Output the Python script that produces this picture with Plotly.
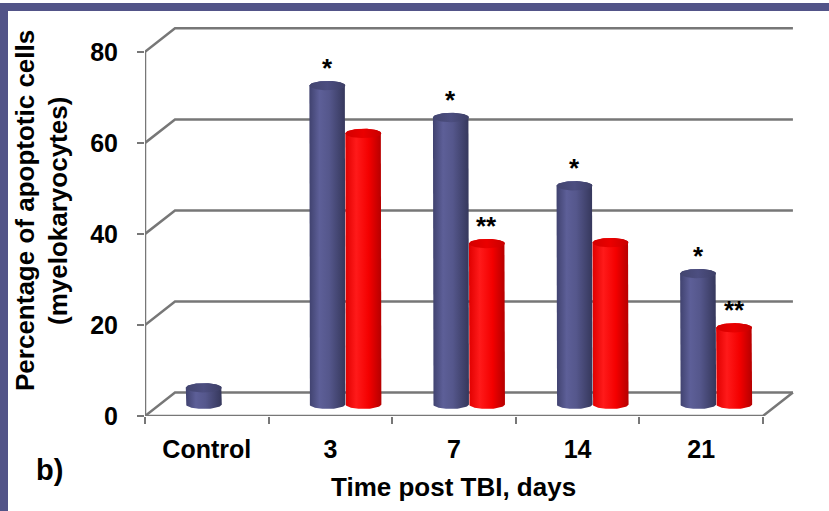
import numpy as np
import plotly.graph_objects as go

# ---------------- data ----------------
categories = ["Control", "3", "7", "14", "21"]
group_a = [3.6, 70.0, 63.0, 48.0, 28.7]      # blue bars
group_b = [None, 59.5, 35.3, 35.5, 16.8]     # red bars
sig_a = ["", "*", "*", "*", "*"]
sig_b = ["", "", "**", "", "**"]
y_ticks = [0, 20, 40, 60, 80]
x_title = "Time post TBI, days"
y_title_1 = "Percentage of apoptotic cells"
y_title_2 = "(myelokaryocytes)"
panel_label = "b)"

# ---------------- geometry ----------------
W, H = 829, 511
ML, MR, MT, MB = 145, 29, 20, 95
PW, PH = W - ML - MR, H - MT - MB
XR = [-0.5, 4.8]
YR = [0, 87]
PXX = PW / (XR[1] - XR[0])   # px per x unit
PXY = PH / (YR[1] - YR[0])   # px per y unit
DX = 30 / PXX                # depth offset (x)
DY = 23.5 / PXY              # depth offset (y)
BW = 36 / PXX                # bar width
EB = 4.7 / PXY               # ellipse half height
FONT = "Liberation Sans, Arial, sans-serif"
GRID = "#777777"

def px2paper_x(px):
    return (px - ML) / PW

def px2paper_y(py):
    return (H - MB - py) / PH

fig = go.Figure()

# back wall grid lines + floor
x_front0, x_front1 = XR[0], len(categories) - 0.5
for v in y_ticks:
    fig.add_trace(go.Scatter(
        x=[x_front0, x_front0 + DX, x_front1 + DX],
        y=[v, v + DY, v + DY],
        mode="lines", line=dict(color=GRID, width=2.5), hoverinfo="skip"))
fig.add_trace(go.Scatter(
    x=[x_front0, x_front1, x_front1 + DX],
    y=[0, 0, DY], mode="lines", line=dict(color=GRID, width=2.5), hoverinfo="skip"))
fig.add_trace(go.Scatter(
    x=[x_front0, x_front0], y=[0, y_ticks[-1]],
    mode="lines", line=dict(color=GRID, width=2.5), hoverinfo="skip"))

BLUE_BODY = [[0, "#40426f"], [0.28, "#5d5f98"], [0.55, "#55578c"], [1, "#35375b"]]
BLUE_TOP = [[0, "#43456f"], [0.5, "#4c4e80"], [1, "#3d3f66"]]
RED_BODY = [[0, "#e00000"], [0.3, "#ff1a1a"], [0.65, "#f40000"], [1, "#b50000"]]
RED_TOP = [[0, "#d40000"], [0.5, "#ea0000"], [1, "#c80000"]]

def cylinder(xc, v, body_cs, top_cs):
    a = BW / 2
    base = DY / 2
    top = v + DY / 2
    t1 = np.linspace(np.pi, 2 * np.pi, 40)
    t2 = np.linspace(0, np.pi, 40)
    bx = np.concatenate([[xc - a, xc - a], xc + a * np.cos(t1), [xc + a], xc + a * np.cos(t2)])
    by = np.concatenate([[top, base], base + EB * np.sin(t1), [top], top + EB * np.sin(t2)])
    fig.add_trace(go.Scatter(x=bx, y=by, mode="lines", fill="toself",
                             line=dict(width=0, color="rgba(0,0,0,0)"),
                             fillgradient=dict(type="horizontal", colorscale=body_cs),
                             hoverinfo="skip"))
    t = np.linspace(0, 2 * np.pi, 80)
    fig.add_trace(go.Scatter(x=xc + a * np.cos(t), y=top + EB * np.sin(t), mode="lines",
                             fill="toself", line=dict(width=0, color="rgba(0,0,0,0)"),
                             fillgradient=dict(type="horizontal", colorscale=top_cs),
                             hoverinfo="skip"))
    return top + EB

SIG_FONT = dict(size=26, color="black", family=FONT)
annotations = []
for i, cat in enumerate(categories):
    center = i + DX / 2
    va, vb = group_a[i], group_b[i]
    if va is not None:
        xa = center - BW / 2
        ytop = cylinder(xa, va, BLUE_BODY, BLUE_TOP)
        if sig_a[i]:
            annotations.append(dict(x=xa, y=ytop, text="<b>" + sig_a[i] + "</b>",
                                    showarrow=False, yanchor="middle", yshift=13,
                                    font=SIG_FONT))
    if vb is not None:
        xb = center + BW / 2
        ytop = cylinder(xb, vb, RED_BODY, RED_TOP)
        if sig_b[i]:
            annotations.append(dict(x=xb, y=ytop, text="<b>" + sig_b[i] + "</b>",
                                    showarrow=False, yanchor="middle", yshift=13,
                                    font=SIG_FONT))

# titles and labels
annotations.append(dict(x=(x_front0 + x_front1) / 2, y=px2paper_y(487), xref="x", yref="paper",
                        text="<b>" + x_title + "</b>", showarrow=False,
                        xanchor="center", yanchor="middle",
                        font=dict(size=26, color="black", family=FONT)))
annotations.append(dict(x=px2paper_x(25), y=px2paper_y(211), xref="paper", yref="paper",
                        text="<b>" + y_title_1 + "</b>", showarrow=False, textangle=-90,
                        xanchor="center", yanchor="middle",
                        font=dict(size=26, color="black", family=FONT)))
annotations.append(dict(x=px2paper_x(58), y=px2paper_y(211), xref="paper", yref="paper",
                        text="<b>" + y_title_2 + "</b>", showarrow=False, textangle=-90,
                        xanchor="center", yanchor="middle",
                        font=dict(size=26, color="black", family=FONT)))
annotations.append(dict(x=px2paper_x(49), y=px2paper_y(470), xref="paper", yref="paper",
                        text="<b>" + panel_label + "</b>", showarrow=False,
                        xanchor="center", yanchor="middle",
                        font=dict(size=29, color="black", family=FONT)))

FRAME = "#525488"
shapes = [
    dict(type="rect", xref="paper", yref="paper", x0=px2paper_x(0), x1=px2paper_x(W),
         y0=px2paper_y(11), y1=px2paper_y(3), fillcolor=FRAME, line=dict(width=0), layer="above"),
    dict(type="rect", xref="paper", yref="paper", x0=px2paper_x(0), x1=px2paper_x(8),
         y0=px2paper_y(H), y1=px2paper_y(3), fillcolor=FRAME, line=dict(width=0), layer="above"),
]

fig.update_layout(
    width=W, height=H,
    margin=dict(l=ML, r=MR, t=MT, b=MB, pad=0),
    paper_bgcolor="white", plot_bgcolor="white",
    showlegend=False,
    annotations=annotations, shapes=shapes,
    font=dict(family=FONT, color="black"),
    xaxis=dict(range=XR, showgrid=False, zeroline=False, showline=False,
               tickmode="array", tickvals=list(range(len(categories))),
               ticktext=["<b>" + c + "</b>" for c in categories],
               ticks="", ticklabelstandoff=16,
               tickfont=dict(size=25, color="black", family=FONT),
               minor=dict(tickmode="array",
                          tickvals=[i - 0.5 for i in range(len(categories) + 1)],
                          ticks="outside", ticklen=7, tickwidth=2, tickcolor=GRID),
               fixedrange=True),
    yaxis=dict(range=YR, showgrid=False, zeroline=False, showline=False,
               tickmode="array", tickvals=y_ticks,
               ticktext=["<b>%d</b>" % v for v in y_ticks],
               ticks="outside", ticklen=7, tickwidth=2, tickcolor=GRID,
               ticklabelstandoff=14,
               tickfont=dict(size=25, color="black", family=FONT),
               fixedrange=True),
)

fig.write_html("out.html", config={"displayModeBar": False},
               post_script="document.body.style.margin='0';document.body.style.padding='0';")
